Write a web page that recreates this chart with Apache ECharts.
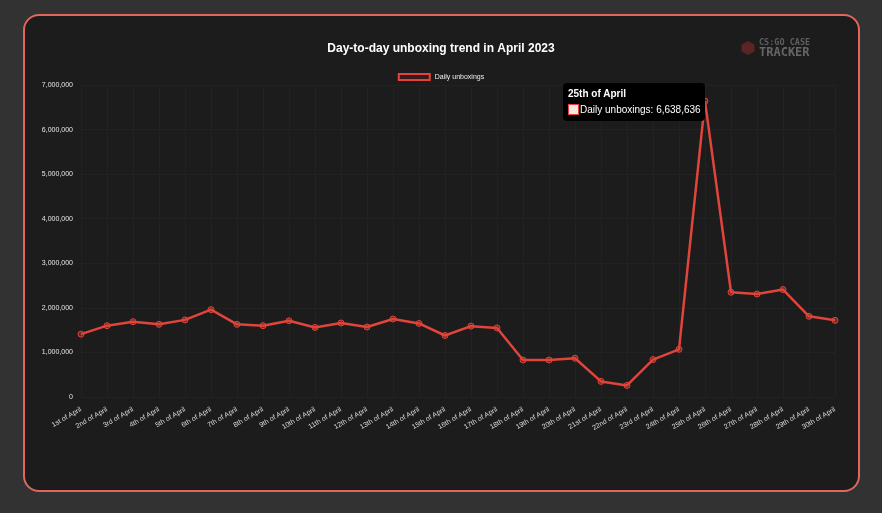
<!DOCTYPE html>
<html>
<head>
<meta charset="utf-8">
<script src="https://cdn.jsdelivr.net/npm/echarts@6/dist/echarts.min.js"></script>
<style>
  html, body { margin: 0; padding: 0; background: #323232; }
  #card {
    position: absolute; left: 23px; top: 14px; width: 833px; height: 474px;
    background: #1c1c1c; border: 2px solid #e0675a; border-radius: 16px;
  }
  #chart { position: absolute; left: 0; top: 0; width: 882px; height: 513px; }
</style>
</head>
<body>
<div id="card"></div>
<div id="chart"></div>
<script>
const days = [
  '1st of April', '2nd of April', '3rd of April', '4th of April', '5th of April',
  '6th of April', '7th of April', '8th of April', '9th of April', '10th of April',
  '11th of April', '12th of April', '13th of April', '14th of April', '15th of April',
  '16th of April', '17th of April', '18th of April', '19th of April', '20th of April',
  '21st of April', '22nd of April', '23rd of April', '24th of April', '25th of April',
  '26th of April', '27th of April', '28th of April', '29th of April', '30th of April'
];

const unboxings = [
  1410000, 1600000, 1690000, 1630000, 1730000,
  1960000, 1630000, 1600000, 1710000, 1560000,
  1660000, 1570000, 1750000, 1650000, 1380000,
  1590000, 1550000, 830000, 830000, 870000,
  350000, 260000, 840000, 1070000, 6638636,
  2350000, 2310000, 2410000, 1810000, 1720000
];

const yTicks = { min: 0, max: 7000000, interval: 1000000 };
const highlighted = 24;

const fmt = v => Number(v).toLocaleString('en-US');
const red = '#e0443a';
const font = 'Arial, "Liberation Sans", sans-serif';

const chart = echarts.init(document.getElementById('chart'), null, { renderer: 'canvas' });

chart.setOption({
  backgroundColor: 'transparent',
  textStyle: { fontFamily: font },
  title: {
    text: 'Day-to-day unboxing trend in April 2023',
    left: 'center', top: 38,
    textStyle: { color: '#ffffff', fontSize: 12, fontWeight: 'bold', fontFamily: font }
  },
  legend: {
    top: 68, left: 'center',
    icon: 'rect', itemWidth: 31, itemHeight: 6, itemGap: 4,
    itemStyle: { color: '#3a1a18', borderColor: red, borderWidth: 2 },
    textStyle: { color: '#eeeeee', fontSize: 7, fontFamily: font },
    data: ['Daily unboxings']
  },
  tooltip: {
    trigger: 'item',
    triggerOn: 'none',
    alwaysShowContent: true,
    position: [563, 83],
    backgroundColor: '#000000',
    borderWidth: 0,
    padding: [4, 4, 5, 5],
    extraCssText: 'border-radius:4px;box-shadow:none;',
    formatter: p =>
      '<div style="font:bold 10px Arial, sans-serif;color:#fff;line-height:13px;margin-bottom:3px">' + p.name + '</div>' +
      '<div style="font:10px Arial, sans-serif;color:#fff;line-height:13px;white-space:nowrap">' +
      '<span style="display:inline-block;width:9px;height:9px;background:#fbe4e2;border:1px solid ' + red + ';vertical-align:-2px;margin-right:1px"></span>' +
      p.seriesName + ': ' + fmt(p.value) + '</div>'
  },
  grid: { left: 81, right: 47, top: 85, bottom: 116 },
  xAxis: {
    type: 'category',
    data: days,
    boundaryGap: false,
    axisLine: { show: false },
    axisTick: { show: false },
    axisLabel: {
      rotate: 30, fontSize: 7, color: '#dddddd', margin: 12, interval: 0, fontFamily: font
    },
    splitLine: { show: true, lineStyle: { color: '#222222', width: 1 } }
  },
  yAxis: {
    type: 'value',
    min: yTicks.min, max: yTicks.max, interval: yTicks.interval,
    axisLine: { show: false },
    axisTick: { show: false },
    axisLabel: { fontSize: 7, color: '#e6e6e6', margin: 8, formatter: fmt, fontFamily: font },
    splitLine: { lineStyle: { color: '#222222', width: 1 } }
  },
  graphic: [
    {
      type: 'polygon', z: 10,
      shape: { points: [[748, 41], [754.5, 44.5], [754.5, 51.5], [748, 55], [741.5, 51.5], [741.5, 44.5]] },
      style: { fill: '#5a2523' }
    },
    {
      type: 'text', z: 10, left: 759, top: 38,
      style: { text: 'CS:GO CASE', fill: '#5e5e5e', font: 'bold 8.5px "DejaVu Sans Mono", monospace' }
    },
    {
      type: 'text', z: 10, left: 759, top: 47,
      style: { text: 'TRACKER', fill: '#666666', font: 'bold 12px "DejaVu Sans Mono", monospace' }
    }
  ],
  series: [{
    name: 'Daily unboxings',
    type: 'line',
    data: unboxings,
    smooth: false,
    showAllSymbol: true,
    symbol: 'circle',
    symbolSize: 6,
    lineStyle: { color: red, width: 2.5 },
    itemStyle: { color: 'rgba(224,68,58,0.35)', borderColor: red, borderWidth: 1 },
    emphasis: { disabled: true }
  }]
});

chart.dispatchAction({ type: 'showTip', seriesIndex: 0, dataIndex: highlighted });
</script>
</body>
</html>
